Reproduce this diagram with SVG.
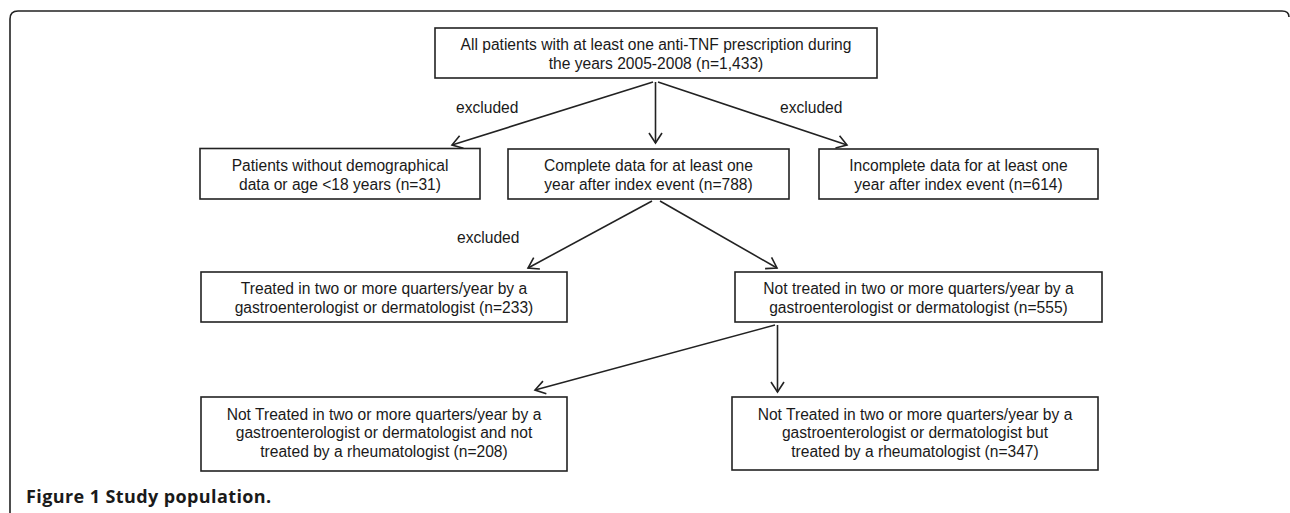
<svg xmlns="http://www.w3.org/2000/svg" width="1290" height="513" viewBox="0 0 1290 513">
<style>
.box{fill:#fff;stroke:#222;stroke-width:1.6}
.t{font-family:"Liberation Sans",Arial,sans-serif;font-size:15.6px;fill:#1a1a1a;text-anchor:middle}
.lbl{font-family:"Liberation Sans",Arial,sans-serif;font-size:15.6px;fill:#1a1a1a}
.c{fill:none;stroke:#222;stroke-width:1.6}
.frame{fill:none;stroke:#222;stroke-width:1.6}
.cap{font-family:"Open Sans","Liberation Sans",sans-serif;font-size:18px;font-weight:700;letter-spacing:0.4px;fill:#1a1a1a}
</style>
<defs>
<marker id="arr" markerUnits="userSpaceOnUse" markerWidth="16" markerHeight="16" viewBox="-12 -8 14 16" refX="0" refY="0" orient="auto" overflow="visible">
<path d="M-10,-6.5 L0,0 L-10,6.5" fill="none" stroke="#222" stroke-width="1.6"/>
</marker>
</defs>
<rect width="1290" height="513" fill="#fff"/>
<path class="frame" d="M10,513 V19 Q10,11 18,11 H1282 Q1289,11 1289,17"/>

<g id="connectors">
<line class="c" x1="653" y1="82" x2="452" y2="145" marker-end="url(#arr)"/>
<line class="c" x1="655.5" y1="82" x2="655.5" y2="143" marker-end="url(#arr)"/>
<line class="c" x1="658" y1="82" x2="847" y2="145" marker-end="url(#arr)"/>
<line class="c" x1="652" y1="201" x2="528" y2="268" marker-end="url(#arr)"/>
<line class="c" x1="660" y1="201" x2="777" y2="268" marker-end="url(#arr)"/>
<line class="c" x1="775" y1="325" x2="535" y2="390" marker-end="url(#arr)"/>
<line class="c" x1="777.5" y1="325" x2="777.5" y2="392" marker-end="url(#arr)"/>
<text class="lbl" x="456" y="113">excluded</text>
<text class="lbl" x="780" y="113">excluded</text>
<text class="lbl" x="457" y="243">excluded</text>
</g>

<g id="n-all">
<rect class="box" x="435" y="28" width="442" height="50"/>
<text class="t" x="656" y="50">All patients with at least one anti-TNF prescription during</text>
<text class="t" x="656" y="68.5">the years 2005-2008 (n=1,433)</text>
</g>

<g id="n-nodemo">
<rect class="box" x="200" y="148.5" width="280" height="50.5"/>
<text class="t" x="340" y="171">Patients without demographical</text>
<text class="t" x="340" y="190">data or age &lt;18 years (n=31)</text>
</g>

<g id="n-complete">
<rect class="box" x="508" y="149" width="281" height="50"/>
<text class="t" x="648.5" y="171">Complete data for at least one</text>
<text class="t" x="648.5" y="190">year after index event (n=788)</text>
</g>

<g id="n-incomplete">
<rect class="box" x="819" y="149" width="279" height="50"/>
<text class="t" x="958.5" y="171">Incomplete data for at least one</text>
<text class="t" x="958.5" y="190">year after index event (n=614)</text>
</g>

<g id="n-treated">
<rect class="box" x="201" y="272" width="366" height="50"/>
<text class="t" x="384" y="294">Treated in two or more quarters/year by a</text>
<text class="t" x="384" y="312.5">gastroenterologist or dermatologist (n=233)</text>
</g>

<g id="n-nottreated">
<rect class="box" x="735" y="272" width="367" height="50"/>
<text class="t" x="918.5" y="294">Not treated in two or more quarters/year by a</text>
<text class="t" x="918.5" y="312.5">gastroenterologist or dermatologist (n=555)</text>
</g>

<g id="n-norheum">
<rect class="box" x="201" y="397" width="366" height="74"/>
<text class="t" x="384" y="419.5">Not Treated in two or more quarters/year by a</text>
<text class="t" x="384" y="438">gastroenterologist or dermatologist and not</text>
<text class="t" x="384" y="457">treated by a rheumatologist (n=208)</text>
</g>

<g id="n-rheum">
<rect class="box" x="732" y="397" width="366" height="73"/>
<text class="t" x="915" y="419.5">Not Treated in two or more quarters/year by a</text>
<text class="t" x="915" y="438">gastroenterologist or dermatologist but</text>
<text class="t" x="915" y="457">treated by a rheumatologist (n=347)</text>
</g>

<text class="cap" x="26" y="503">Figure 1 Study population.</text>
</svg>
